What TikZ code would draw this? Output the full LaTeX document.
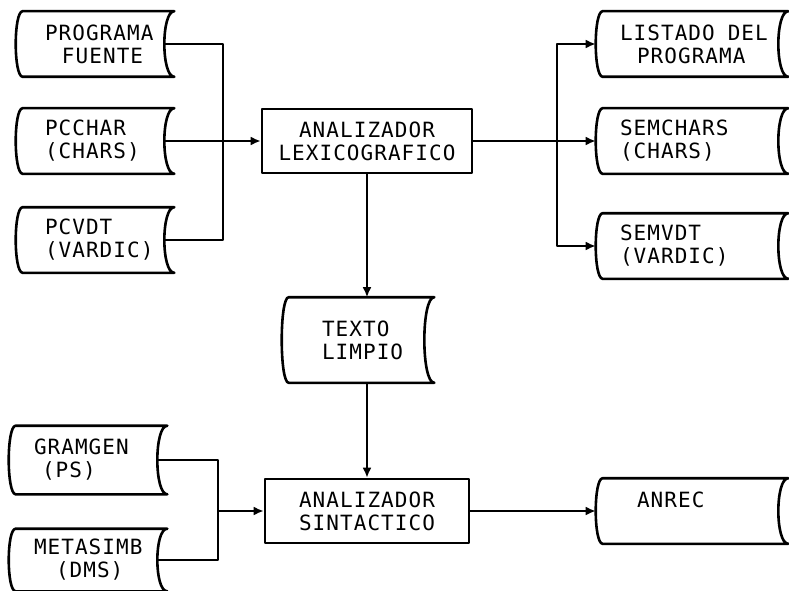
\documentclass[tikz,border=0pt]{standalone}
\usepackage{fontspec}
\newfontfamily\plotfont{DejaVu Sans Mono}[LetterSpace=5]
\usetikzlibrary{arrows.meta}

\begin{document}
\begin{tikzpicture}[x=1pt,y=-1pt,line width=2.6pt,line join=round,
   every node/.style={font=\plotfont\fontsize{21}{23}\selectfont},
   >={Latex[length=10pt,width=9pt]},
   store/.style={align=left,inner ysep=0pt,minimum height=63pt,inner xsep=#1},
   lcol/.style={store=28pt,text width=90pt},
   bcol/.style={store=24pt,text width=98pt},
   rcol/.style={store=23pt,text width=134pt},
   proc/.style={rectangle,draw,align=center,minimum height=64pt,inner sep=0pt}]
  \useasboundingbox (0,0) rectangle (789,591);
  % entradas del lexicografico
  \node[lcol] (pf) at (90,44) {PROGRAMA\\\hspace*{17pt}FUENTE};
  \node[lcol] (pcc) at (90,141) {PCCHAR\\(CHARS)};
  \node[lcol] (pcv) at (90,240) {PCVDT\\(VARDIC)};
  \node[proc,minimum width=210pt] (lex) at (367,141) {ANALIZADOR\\LEXICOGRAFICO};
  % salidas
  \node[rcol] (lst) at (687,44) {LISTADO\hspace*{13pt}DEL\\\hspace*{17pt}PROGRAMA};
  \node[rcol] (smc) at (687,141) {SEMCHARS\\(CHARS)};
  \node[rcol] (smv) at (687,246) {SEMVDT\\(VARDIC)};
  \node[store=39pt,text width=62pt,minimum height=83pt] (tl) at (353,340) {TEXTO\\LIMPIO};
  % sintactico
  \node[bcol,minimum height=66pt] (gg) at (83,460) {GRAMGEN\\\hspace*{8pt}(PS)};
  \node[bcol,minimum height=60pt] (ms) at (83,560) {METASIMB\\\hspace*{22pt}(DMS)};
  \node[proc,minimum width=204pt] (sint) at (367,511) {ANALIZADOR\\SINTACTICO};
  \node[rcol] (anr) at (687,511) {\hspace*{17pt}ANREC\\\mbox{}};
  % contornos de los ficheros
  \foreach \n in {pf,pcc,pcv,gg,ms,tl,lst,smc,smv,anr}
    \draw ([xshift=7pt]\n.north west) .. controls ([xshift=-2.3pt]\n.north west) and ([xshift=-2.3pt]\n.south west) .. ([xshift=7pt]\n.south west)
      -- ([xshift=10pt]\n.south east) .. controls ([xshift=-3.3pt]\n.south east) and ([xshift=-3.3pt]\n.north east) .. ([xshift=10pt]\n.north east) -- cycle;
  \coordinate (lbus) at (223,141);
  \coordinate (rbus) at (557,141);
  \coordinate (bbus) at (218,511);
  \draw (pf.east) -| (lbus);
  \draw (pcv.east) -| (lbus);
  \draw[->] (pcc.east) -- (lex.west);
  \draw (lex.east) -- (rbus);
  \draw[->] (rbus) |- (lst.west);
  \draw[->] (rbus) -- (smc.west);
  \draw[->] (rbus) |- (smv.west);
  \draw[->] (lex.south) -- (lex.south |- tl.north);
  \draw[->] (lex.south |- tl.south) -- (sint.north);
  \draw (gg.east) -| (bbus);
  \draw (ms.east) -| (bbus);
  \draw[->] (bbus) -- (sint.west);
  \draw[->] (sint.east) -- (anr.west);
\end{tikzpicture}
\end{document}
